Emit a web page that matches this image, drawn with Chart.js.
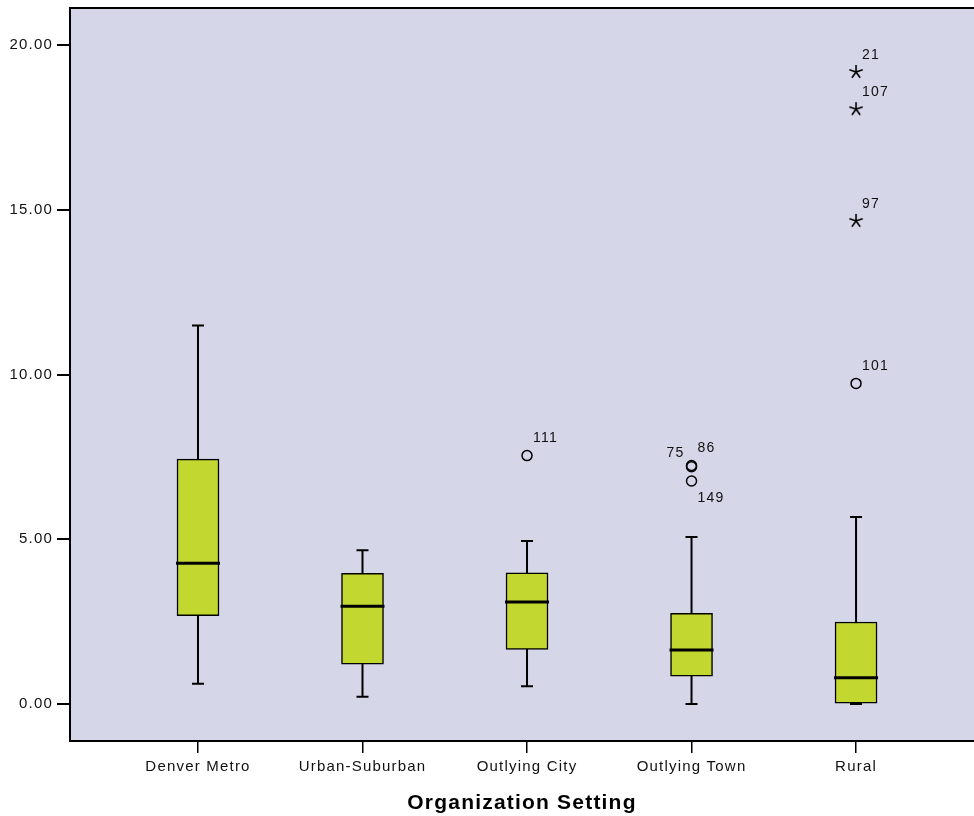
<!DOCTYPE html>
<html lang="en">

<head>
    <meta charset="UTF-8">
    <title>Organization Setting</title>
    <style>
        html, body { margin: 0; padding: 0; background: #ffffff; overflow: hidden; }
        #box { width: 974px; height: 816px; }
    </style>
</head>

<body>

    <div id="box">
        <canvas id="boxplot"></canvas>
    </div>

    <script src="https://cdn.jsdelivr.net/npm/chart.js"></script>
    <script>
        // values
        const categories = ['Denver Metro', 'Urban-Suburban', 'Outlying City', 'Outlying Town', 'Rural'];
        const whiskerLow = [0.62, 0.22, 0.54, 0.00, 0.00];
        const q1 = [2.68, 1.21, 1.66, 0.85, 0.00];
        const median = [4.27, 2.97, 3.10, 1.64, 0.80];
        const q3 = [7.43, 3.97, 3.98, 2.75, 2.49];
        const whiskerHigh = [11.49, 4.67, 4.95, 5.07, 5.68];

        // outliers (circles) and extremes (stars): category number, value, case id
        const outlierGroup = [3, 4, 4, 4, 5];
        const outlierValue = [7.54, 7.20, 7.24, 6.77, 9.73];
        const outlierCase = ['111', '75', '86', '149', '101'];
        const extremeGroup = [5, 5, 5];
        const extremeValue = [19.18, 18.05, 14.66];
        const extremeCase = ['21', '107', '97'];

        const yTicks = [0, 5, 10, 15, 20];

        // where the case label sits next to its marker
        const labelSide = { '75': 'left', '149': 'below' };

        const lavender = '#D6D6E9';
        const boxGreen = '#C2D72F';
        const fontFamily = '"Liberation Sans", Arial, sans-serif';

        function starImage() {
            const c = document.createElement('canvas');
            c.width = 16; c.height = 16;
            const g = c.getContext('2d');
            g.strokeStyle = '#000';
            g.lineWidth = 1.6;
            g.beginPath();
            for (let k = 0; k < 5; k++) {
                const a = (-90 + k * 72) * Math.PI / 180;
                g.moveTo(8, 8);
                g.lineTo(8 + 7 * Math.cos(a), 8 + 7 * Math.sin(a));
            }
            g.stroke();
            return c;
        }

        const frame = {
            id: 'frame',
            beforeDraw(chart) {
                const { ctx, chartArea: a } = chart;
                ctx.save();
                ctx.fillStyle = lavender;
                ctx.fillRect(a.left, a.top, a.right - a.left, a.bottom - a.top);
                ctx.strokeStyle = '#000';
                ctx.lineWidth = 2;
                ctx.beginPath();
                ctx.moveTo(a.left - 1, a.top);
                ctx.lineTo(a.right, a.top);
                ctx.stroke();
                ctx.restore();
                ctx.letterSpacing = '1.2px';
            }
        };

        const whiskers = {
            id: 'whiskers',
            beforeDatasetsDraw(chart) {
                const { ctx, scales: { x, y } } = chart;
                ctx.save();
                ctx.strokeStyle = '#000';
                ctx.lineWidth = 2;
                categories.forEach((c, i) => {
                    const px = x.getPixelForValue(i + 1);
                    const lo = y.getPixelForValue(whiskerLow[i]);
                    const hi = y.getPixelForValue(whiskerHigh[i]);
                    ctx.beginPath();
                    ctx.moveTo(px, lo); ctx.lineTo(px, hi);
                    ctx.moveTo(px - 6, lo); ctx.lineTo(px + 6, lo);
                    ctx.moveTo(px - 6, hi); ctx.lineTo(px + 6, hi);
                    ctx.stroke();
                });
                ctx.restore();
            },
            afterDatasetsDraw(chart) {
                const { ctx, scales: { x, y } } = chart;
                ctx.save();
                ctx.strokeStyle = '#000';
                ctx.lineWidth = 3;
                categories.forEach((c, i) => {
                    const px = x.getPixelForValue(i + 1);
                    const py = y.getPixelForValue(median[i]);
                    ctx.beginPath();
                    ctx.moveTo(px - 22, py); ctx.lineTo(px + 22, py);
                    ctx.stroke();
                });

                // case labels
                ctx.fillStyle = '#111';
                ctx.font = '14px ' + fontFamily;
                ctx.textBaseline = 'middle';
                const put = (g, v, id) => {
                    const px = x.getPixelForValue(g);
                    const py = y.getPixelForValue(v);
                    const side = labelSide[id];
                    if (side === 'left') {
                        ctx.textAlign = 'right';
                        ctx.fillText(id, px - 7, py - 14);
                    } else if (side === 'below') {
                        ctx.textAlign = 'left';
                        ctx.fillText(id, px + 6, py + 17);
                    } else {
                        ctx.textAlign = 'left';
                        ctx.fillText(id, px + 6, py - 17);
                    }
                };
                outlierCase.forEach((id, i) => put(outlierGroup[i], outlierValue[i], id));
                extremeCase.forEach((id, i) => put(extremeGroup[i], extremeValue[i], id));
                ctx.restore();
            }
        };

        const ctx = document.getElementById('boxplot');

        new Chart(ctx, {
            type: 'bar',
            data: {
                datasets: [
                    {
                        label: 'Box',
                        data: categories.map((c, i) => ({ x: i + 1, y: [q1[i], q3[i]] })),
                        backgroundColor: boxGreen,
                        borderColor: '#000',
                        borderWidth: 1.5,
                        borderSkipped: false,
                        barThickness: 42,
                        grouped: false,
                        order: 2
                    },
                    {
                        type: 'scatter',
                        label: 'Outliers',
                        data: outlierValue.map((v, i) => ({ x: outlierGroup[i], y: v })),
                        pointStyle: 'circle',
                        pointRadius: 5,
                        pointBorderWidth: 1.5,
                        pointBorderColor: '#000',
                        pointBackgroundColor: 'rgba(0,0,0,0)',
                        order: 1
                    },
                    {
                        type: 'scatter',
                        label: 'Extremes',
                        data: extremeValue.map((v, i) => ({ x: extremeGroup[i], y: v })),
                        pointStyle: starImage(),
                        order: 1
                    }
                ]
            },
            options: {
                responsive: true,
                maintainAspectRatio: false,
                animation: false,
                layout: { autoPadding: false, padding: { top: 8, left: 0, right: 0, bottom: 0 } },
                plugins: {
                    legend: { display: false },
                    tooltip: { enabled: false }
                },
                scales: {
                    x: {
                        type: 'linear',
                        min: 0.222,
                        max: 5.717,
                        offset: false,
                        afterBuildTicks: (s) => { s.ticks = categories.map((c, i) => ({ value: i + 1 })); },
                        afterFit: (s) => { s.height = 75; s.paddingLeft = 0; s.paddingRight = 0; },
                        ticks: {
                            callback: (v) => categories[v - 1],
                            color: '#111',
                            padding: 5,
                            maxRotation: 0,
                            autoSkip: false,
                            font: { family: fontFamily, size: 15 }
                        },
                        grid: { offset: false, drawOnChartArea: false, color: '#000', lineWidth: 1.5, tickLength: 12 },
                        border: { display: true, color: '#000', width: 2 },
                        title: {
                            display: true,
                            text: 'Organization Setting',
                            color: '#000',
                            padding: 0,
                            font: { family: fontFamily, size: 21, weight: 'bold' }
                        }
                    },
                    y: {
                        min: -1.12,
                        max: 21.12,
                        afterBuildTicks: (s) => { s.ticks = yTicks.map(v => ({ value: v })); },
                        afterFit: (s) => { s.width = 70; s.paddingTop = 0; s.paddingBottom = 0; },
                        ticks: {
                            callback: (v) => v.toFixed(2),
                            color: '#111',
                            padding: 4,
                            font: { family: fontFamily, size: 15 }
                        },
                        grid: { drawOnChartArea: false, color: '#000', lineWidth: 2, tickLength: 13 },
                        border: { display: true, color: '#000', width: 2 }
                    }
                }
            },
            plugins: [frame, whiskers]
        });
    </script>

</body>

</html>
